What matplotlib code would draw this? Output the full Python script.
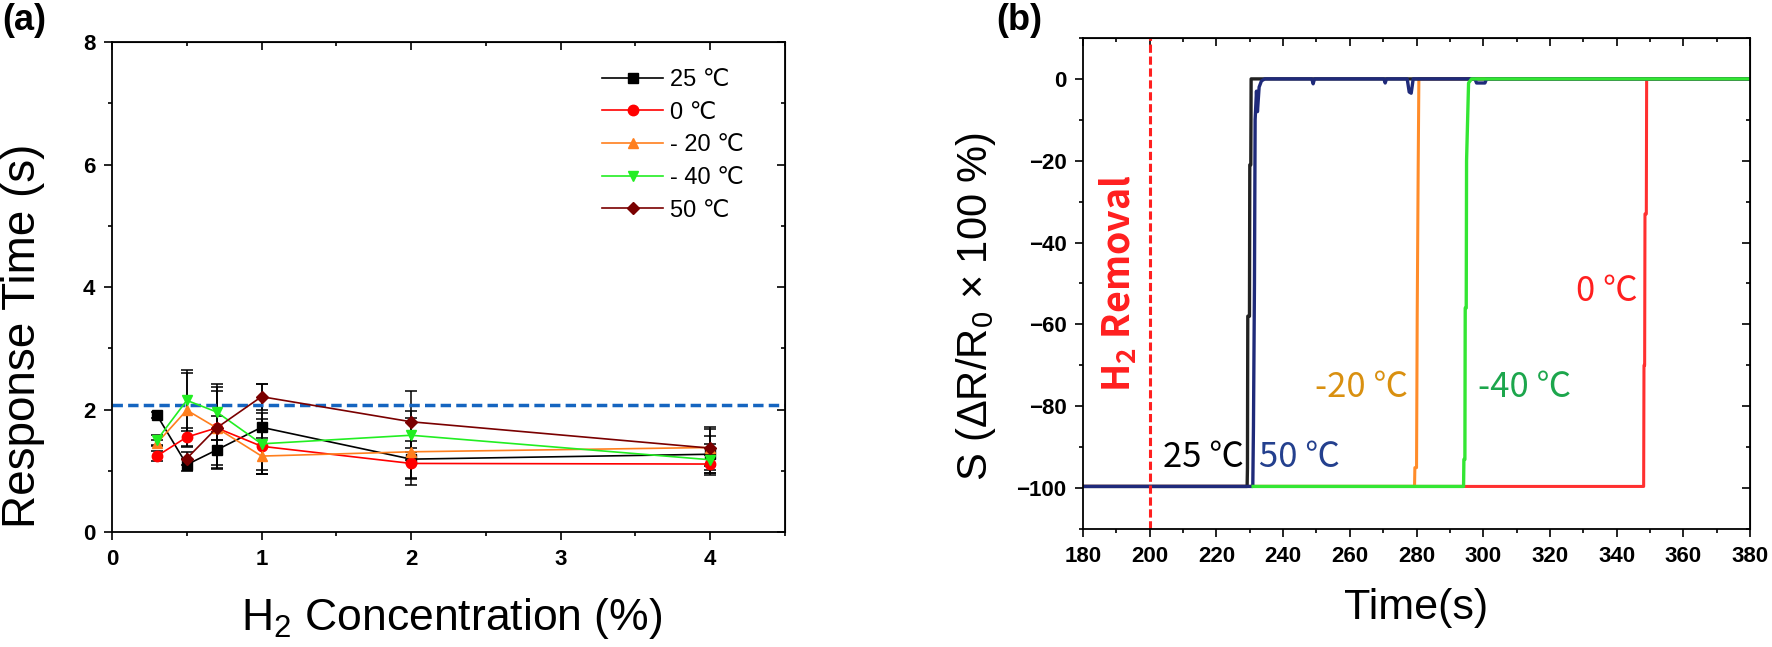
import matplotlib
matplotlib.use('Agg')
import matplotlib.pyplot as plt
from matplotlib.ticker import MultipleLocator

plt.rcParams['font.family'] = ['Liberation Sans', 'DejaVu Sans']
plt.rcParams['mathtext.default'] = 'regular'

# (a) 응답 시간 데이터
conc = [0.3, 0.5, 0.7, 1, 2, 4]
rt_25 = [1.91, 1.10, 1.34, 1.71, 1.19, 1.27]
rt_0 = [1.24, 1.55, 1.70, 1.40, 1.12, 1.11]
rt_m20 = [1.45, 1.99, 1.70, 1.24, 1.31, 1.38]
rt_m40 = [1.50, 2.15, 1.96, 1.44, 1.58, 1.18]
conc_50 = [0.5, 0.7, 1, 2, 4]
rt_50 = [1.20, 1.70, 2.21, 1.80, 1.37]

err_25 = [0.05, 0.10, 0.30, 0.70, 0.30, 0.30]
err_0 = [0.08, 0.15, 0.20, 0.45, 0.25, 0.15]
err_m20 = [0.05, 0.60, 0.67, 0.30, 0.55, 0.30]
err_m40 = [0.08, 0.50, 0.45, 0.50, 0.40, 0.25]
err_50 = [0.10, 0.60, 0.21, 0.50, 0.35]

ref_time = 2.07

# (b) 회복 곡선 데이터
t_0 = [180, 348.1, 348.2, 348.4, 348.5, 348.9, 349.0, 380]
s_0 = [-99.6, -99.6, -70, -70, -33, -33, 0, 0]
t_m20 = [180, 279.4, 279.5, 280.0, 280.2, 280.5, 280.7, 380]
s_m20 = [-99.6, -99.6, -95, -95, -58, -21, 0, 0]
t_25 = [180, 229.2, 229.3, 229.4, 229.9, 230.0, 230.3, 230.4, 380]
s_25 = [-99.6, -99.6, -95, -58, -58, -21, -21, 0, 0]
t_50 = [180, 230.9, 231.1, 231.4, 231.6, 232.0, 232.3, 232.8, 233.5, 234.5,
        248.6, 249.0, 249.4, 270.2, 270.6, 271.0, 277.2, 277.8, 278.4, 279.0,
        297.5, 298.0, 300.5, 301.0, 380]
s_50 = [-99.6, -99.6, -85, -50, -10, -3, -8, -2, -0.5, 0,
        0, -1.2, 0, 0, -1, 0, 0, -3.2, -3.5, 0,
        0, -1, -1, 0, 0]
t_m40 = [231, 294.1, 294.2, 294.5, 294.6, 294.9, 295.0, 295.6, 296.5, 380]
s_m40 = [-99.6, -99.6, -93, -93, -56, -56, -20, -1, 0, 0]

removal_time = 200

fig = plt.figure(figsize=(17.72, 6.47), dpi=100)
ax1 = fig.add_axes([0.0632, 0.1777, 0.3798, 0.7573])
ax2 = fig.add_axes([0.6112, 0.1824, 0.3764, 0.7589])

# ---- (a) ----
series = [
    (conc, rt_25, err_25, 'black', 's', '25 ℃'),
    (conc, rt_0, err_0, '#ff0000', 'o', '0 ℃'),
    (conc, rt_m20, err_m20, '#ff7f1e', '^', '- 20 ℃'),
    (conc, rt_m40, err_m40, '#22ee22', 'v', '- 40 ℃'),
    (conc_50, rt_50, err_50, '#7a0000', 'D', '50 ℃'),
]
handles = []
for x, y, e, c, m, lab in series:
    cont = ax1.errorbar(x, y, yerr=e, color=c, marker=m,
                        ms=7.5 if m != 'D' else 6.5, lw=1.2, ecolor='black',
                        elinewidth=1.1, capsize=4, capthick=1.1, label=lab)
    handles.append(cont[0])
ax1.axhline(ref_time, color='#1565c0', lw=2.5, dashes=(3, 1.5))

ax1.set_xlim(0, 4.5)
ax1.set_ylim(0, 8)
ax1.xaxis.set_major_locator(MultipleLocator(1))
ax1.xaxis.set_minor_locator(MultipleLocator(0.5))
ax1.yaxis.set_major_locator(MultipleLocator(2))
ax1.yaxis.set_minor_locator(MultipleLocator(1))
ax1.set_xticks([0, 1, 2, 3, 4])
ax1.set_xlabel('H$_2$ Concentration (%)', fontsize=32)
ax1.set_ylabel('Response Time (s)', fontsize=33)
ax1.xaxis.set_label_coords(0.505, -0.13)
ax1.yaxis.set_label_coords(-0.10, 0.40)

ax1.legend(handles, [s[5] for s in series], loc='upper left',
           bbox_to_anchor=(0.728, 0.945), frameon=False, fontsize=17,
           handlelength=2.6, handletextpad=0.3, labelspacing=0.45,
           borderpad=0, borderaxespad=0)

# ---- (b) ----
ax2.plot(t_0, s_0, color='#ff3030', lw=2.2)
ax2.plot(t_m20, s_m20, color='#ff8c2a', lw=2.2)
ax2.plot(t_25, s_25, color='#222222', lw=2.4)
ax2.plot(t_50, s_50, color='#1f2a7a', lw=2.4)
ax2.plot(t_m40, s_m40, color='#33e633', lw=2.4)
ax2.axvline(removal_time, color='#ff2020', lw=2.2, dashes=(2.7, 1.2))

ax2.set_xlim(180, 380)
ax2.set_ylim(-110, 10)
ax2.xaxis.set_major_locator(MultipleLocator(20))
ax2.xaxis.set_minor_locator(MultipleLocator(10))
ax2.yaxis.set_major_locator(MultipleLocator(20))
ax2.yaxis.set_minor_locator(MultipleLocator(10))
ax2.set_xlabel('Time(s)', fontsize=31)
ax2.set_ylabel('S (ΔR/R$_0$ × 100 %)', fontsize=30)
ax2.xaxis.set_label_coords(0.499, -0.12)
ax2.yaxis.set_label_coords(-0.127, 0.454)

kr = ['Noto Sans CJK KR', 'DejaVu Sans']
ax2.text(228.3, -92.5, '25 ℃', color='black', fontsize=25, ha='right',
         va='center', family=kr, fontweight='medium')
ax2.text(232.8, -92.5, '50 ℃', color='#24408e', fontsize=25, ha='left',
         va='center', family=kr, fontweight='medium')
ax2.text(277.5, -75.3, '-20 ℃', color='#d99010', fontsize=25, ha='right',
         va='center', family=kr, fontweight='medium')
ax2.text(298.3, -75.3, '-40 ℃', color='#1ca64c', fontsize=25, ha='left',
         va='center', family=kr, fontweight='medium')
ax2.text(346.2, -52, '0 ℃', color='#ff1f1f', fontsize=25, ha='right',
         va='center', family=kr, fontweight='medium')
ax2.text(190.6, -50, 'H$_2$ Removal', color='#ff1f1f', fontsize=27,
         rotation=90, ha='center', va='center', family=kr, fontweight='bold')

# 축 스타일 (아래/왼쪽은 바깥, 위/오른쪽은 안쪽 눈금)
for ax in (ax1, ax2):
    for sp in ax.spines.values():
        sp.set_linewidth(1.3)
    ax.tick_params(which='major', direction='out', length=6, width=1.2,
                   labelsize=16, pad=6)
    ax.tick_params(which='minor', direction='out', length=3, width=1.2)
    for lab in ax.get_xticklabels() + ax.get_yticklabels():
        lab.set_fontweight('bold')
    top = ax.secondary_xaxis('top')
    top.xaxis.set_major_locator(ax.xaxis.get_major_locator())
    top.xaxis.set_minor_locator(ax.xaxis.get_minor_locator())
    top.tick_params(which='major', direction='in', length=6, width=1.2,
                    labeltop=False)
    top.tick_params(which='minor', direction='in', length=3, width=1.2)
    right = ax.secondary_yaxis('right')
    right.yaxis.set_major_locator(ax.yaxis.get_major_locator())
    right.yaxis.set_minor_locator(ax.yaxis.get_minor_locator())
    right.tick_params(which='major', direction='in', length=6, width=1.2,
                      labelright=False)
    right.tick_params(which='minor', direction='in', length=3, width=1.2)

fig.text(0.001, 0.995, '(a)', fontsize=26, fontweight='bold', ha='left', va='top')
fig.text(0.562, 0.995, '(b)', fontsize=26, fontweight='bold', ha='left', va='top')

fig.savefig('out.png', dpi=100)
